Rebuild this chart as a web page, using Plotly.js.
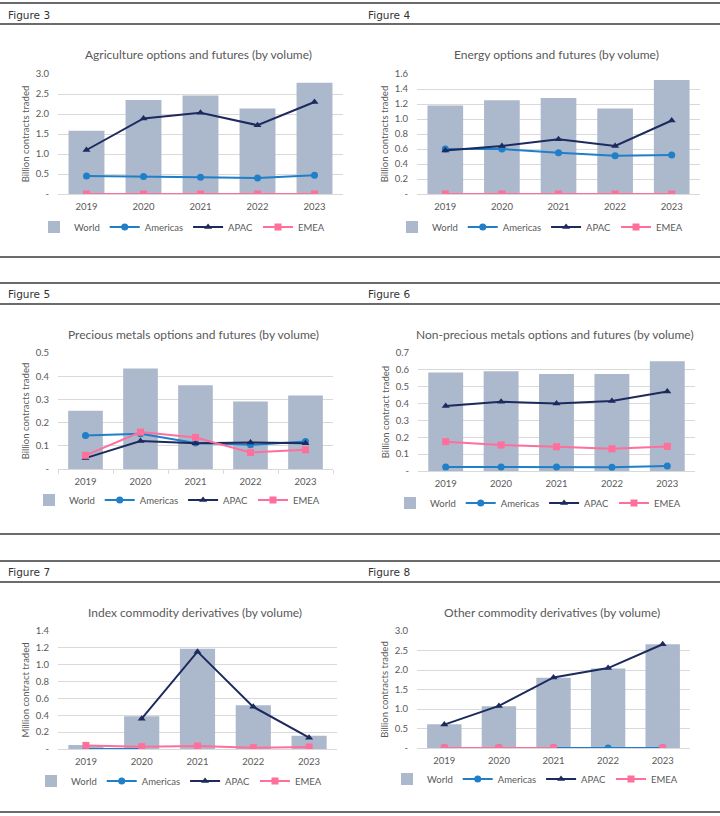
<!DOCTYPE html>
<html>
<head>
<meta charset="utf-8">
<script src="https://cdn.plot.ly/plotly-3.0.1.min.js"></script>
<style>html,body{margin:0;padding:0;background:#fff}#chart{width:720px;height:816px}</style>
</head>
<body>
<div id="chart"></div>
<script>
// ---------- DATA ----------
const years = ['2019', '2020', '2021', '2022', '2023'];

const agriWorld    = [1.58, 2.35, 2.46, 2.14, 2.78];
const agriAmericas = [0.45, 0.44, 0.42, 0.40, 0.47];
const agriAPAC     = [1.10, 1.89, 2.03, 1.72, 2.30];
const agriEMEA     = [0.00, 0.00, 0.00, 0.00, 0.00];

const energyWorld    = [1.18, 1.25, 1.28, 1.14, 1.52];
const energyAmericas = [0.60, 0.60, 0.55, 0.51, 0.52];
const energyAPAC     = [0.58, 0.64, 0.73, 0.64, 0.98];
const energyEMEA     = [0.00, 0.00, 0.00, 0.00, 0.00];

const preciousWorld    = [0.251, 0.433, 0.361, 0.291, 0.317];
const preciousAmericas = [0.144, 0.152, 0.112, 0.104, 0.119];
const preciousAPAC     = [0.047, 0.121, 0.111, 0.114, 0.111];
const preciousEMEA     = [0.059, 0.159, 0.136, 0.071, 0.083];

const nonPreciousWorld    = [0.585, 0.591, 0.575, 0.575, 0.651];
const nonPreciousAmericas = [0.024, 0.024, 0.024, 0.022, 0.030];
const nonPreciousAPAC     = [0.386, 0.411, 0.401, 0.415, 0.471];
const nonPreciousEMEA     = [0.174, 0.154, 0.144, 0.132, 0.146];

const indexWorld    = [0.047, 0.39, 1.19, 0.52, 0.158];
const indexAmericas = [0.000, 0.000, null, null, null];
const indexAPAC     = [null, 0.36, 1.155, 0.50, 0.134];
const indexEMEA     = [0.043, 0.028, 0.036, 0.016, 0.024];

const otherWorld    = [0.61, 1.07, 1.80, 2.04, 2.66];
const otherAmericas = [0.00, 0.00, 0.00, 0.00, 0.00];
const otherAPAC     = [0.60, 1.08, 1.81, 2.05, 2.66];
const otherEMEA     = [0.00, 0.00, 0.00, null, 0.00];

const seriesNames = ['World', 'Americas', 'APAC', 'EMEA'];

const figureLabels = ['Figure 3', 'Figure 4', 'Figure 5', 'Figure 6', 'Figure 7', 'Figure 8'];
const chartTitles = [
  'Agriculture options and futures (by volume)',
  'Energy options and futures (by volume)',
  'Precious metals options and futures (by volume)',
  'Non-precious metals options and futures (by volume)',
  'Index commodity derivatives (by volume)',
  'Other commodity derivatives (by volume)'
];
const yTitles = [
  'Billion contracts traded', 'Billion contracts traded', 'Billion contracts traded',
  'Billion contract traded', 'Million contract traded', 'Billion contracts traded'
];

const tickVals3 = [0, 0.5, 1.0, 1.5, 2.0, 2.5, 3.0];
const tickText3 = ['-', '0.5', '1.0', '1.5', '2.0', '2.5', '3.0'];
const tickVals16 = [0, 0.2, 0.4, 0.6, 0.8, 1.0, 1.2, 1.4, 1.6];
const tickText16 = ['-', '0.2', '0.4', '0.6', '0.8', '1.0', '1.2', '1.4', '1.6'];
const tickVals05 = [0, 0.1, 0.2, 0.3, 0.4, 0.5];
const tickText05 = ['-', '0.1', '0.2', '0.3', '0.4', '0.5'];
const tickVals07 = [0, 0.1, 0.2, 0.3, 0.4, 0.5, 0.6, 0.7];
const tickText07 = ['-', '0.1', '0.2', '0.3', '0.4', '0.5', '0.6', '0.7'];
const tickVals14 = [0, 0.2, 0.4, 0.6, 0.8, 1.0, 1.2, 1.4];
const tickText14 = ['-', '0.2', '0.4', '0.6', '0.8', '1.0', '1.2', '1.4'];

// ---------- STYLE ----------
const W = 720, H = 816;
const FONT = 'Lato, "Liberation Sans", Arial, sans-serif';
const GREY = '#595959';
const C_WORLD = '#acb8cb', C_AM = '#1f7fc9', C_APAC = '#1c2a5e', C_EMEA = '#ff6f9c';

const panels = [
  {world: agriWorld, am: agriAmericas, apac: agriAPAC, emea: agriEMEA, range: [0, 3.0], tv: tickVals3, tt: tickText3,
   box: [58, 343, 74, 194], titleY: 55, legX: 182, legY: 227, ticks: false},
  {world: energyWorld, am: energyAmericas, apac: energyAPAC, emea: energyEMEA, range: [0, 1.6], tv: tickVals16, tt: tickText16,
   box: [417, 700, 74, 194], titleY: 55, legX: 540, legY: 227, ticks: false},
  {world: preciousWorld, am: preciousAmericas, apac: preciousAPAC, emea: preciousEMEA, range: [0, 0.5], tv: tickVals05, tt: tickText05,
   box: [58, 333, 353, 469], titleY: 334, legX: 177, legY: 500, ticks: true},
  {world: nonPreciousWorld, am: nonPreciousAmericas, apac: nonPreciousAPAC, emea: nonPreciousEMEA, range: [0, 0.7], tv: tickVals07, tt: tickText07,
   box: [418, 695, 353, 471], titleY: 334, legX: 538, legY: 503, ticks: false},
  {world: indexWorld, am: indexAmericas, apac: indexAPAC, emea: indexEMEA, range: [0, 1.4], tv: tickVals14, tt: tickText14,
   box: [58, 337, 631, 749], titleY: 612, legX: 179, legY: 781, ticks: false},
  {world: otherWorld, am: otherAmericas, apac: otherAPAC, emea: otherEMEA, range: [0, 3.0], tv: tickVals3, tt: tickText3,
   box: [417, 690, 631, 748], titleY: 612, legX: 535, legY: 779, ticks: false}
];

const figLabelPos = [[6, 15], [366, 15], [6, 294], [366, 294], [6, 572], [366, 572]];
const ruleYs = [3, 24, 257, 283, 304, 534, 561, 582, 812];

const px = x => x / W;
const py = y => 1 - y / H;

const traces = [];
const layout = {
  width: W, height: H,
  margin: {l: 0, r: 0, t: 0, b: 0},
  paper_bgcolor: '#ffffff', plot_bgcolor: '#ffffff',
  font: {family: FONT, color: GREY, size: 9},
  bargap: 0.37,
  annotations: [], shapes: []
};

panels.forEach((p, i) => {
  const n = i + 1;
  const xa = n === 1 ? 'x' : 'x' + n;
  const ya = n === 1 ? 'y' : 'y' + n;
  const leg = n === 1 ? 'legend' : 'legend' + n;
  const vals = [p.world, p.am, p.apac, p.emea];
  traces.push({type: 'bar', x: years, y: vals[0], name: seriesNames[0], xaxis: xa, yaxis: ya, legend: leg,
    marker: {color: C_WORLD}, hoverinfo: 'y'});
  traces.push({type: 'scatter', mode: 'lines+markers', x: years, y: vals[1], name: seriesNames[1], xaxis: xa, yaxis: ya, legend: leg,
    line: {color: C_AM, width: 2}, marker: {symbol: 'circle', size: 7, color: C_AM}});
  traces.push({type: 'scatter', mode: 'lines+markers', x: years, y: vals[2], name: seriesNames[2], xaxis: xa, yaxis: ya, legend: leg,
    line: {color: C_APAC, width: 2}, marker: {symbol: 'triangle-up', size: 7, color: C_APAC}});
  traces.push({type: 'scatter', mode: 'lines+markers', x: years, y: vals[3], name: seriesNames[3], xaxis: xa, yaxis: ya, legend: leg,
    line: {color: C_EMEA, width: 2}, marker: {symbol: 'square', size: 7, color: C_EMEA}});

  const [l, r, t, b] = p.box;
  layout['xaxis' + (n === 1 ? '' : n)] = {
    domain: [px(l), px(r)], anchor: ya, type: 'category',
    showline: true, linecolor: '#d9d9d9', linewidth: 1,
    ticks: p.ticks ? 'outside' : '', tickson: 'boundaries', ticklen: 4, tickcolor: '#d9d9d9',
    showgrid: false, tickfont: {size: 9.5, color: GREY}, ticklabelstandoff: 4, fixedrange: true
  };
  layout['yaxis' + (n === 1 ? '' : n)] = {
    domain: [py(b), py(t)], anchor: xa, range: p.range,
    tickvals: p.tv, ticktext: p.tt, showgrid: true, gridcolor: '#d9d9d9', gridwidth: 1,
    zeroline: false, showline: false, ticks: '', ticklabelstandoff: 8,
    tickfont: {size: 9.5, color: GREY},
    title: {text: yTitles[i], font: {size: 9.5, color: GREY}, standoff: 4},
    fixedrange: true
  };
  layout[leg] = {
    orientation: 'h', x: px(p.legX), y: py(p.legY), xanchor: 'center', yanchor: 'middle',
    font: {size: 9.5, color: GREY}, bgcolor: 'rgba(0,0,0,0)', itemwidth: 30, traceorder: 'normal'
  };
  layout.annotations.push({
    text: chartTitles[i], xref: 'paper', yref: 'paper', x: px((l + r) / 2 - 2), y: py(p.titleY),
    xanchor: 'center', yanchor: 'middle', showarrow: false, font: {size: 12, color: GREY, family: FONT}
  });
  layout.annotations.push({
    text: figureLabels[i], xref: 'paper', yref: 'paper', x: px(figLabelPos[i][0]), y: py(figLabelPos[i][1]),
    xanchor: 'left', yanchor: 'middle', showarrow: false,
    font: {size: 10.5, color: '#333333', family: '"DejaVu Sans", Verdana, sans-serif'}
  });
});

ruleYs.forEach(y => {
  layout.shapes.push({type: 'line', xref: 'paper', yref: 'paper', x0: 0, x1: 1, y0: py(y), y1: py(y),
    line: {color: '#6b6b6b', width: 2}});
});

Plotly.newPlot('chart', traces, layout, {displayModeBar: false, staticPlot: true});
</script>
</body>
</html>
